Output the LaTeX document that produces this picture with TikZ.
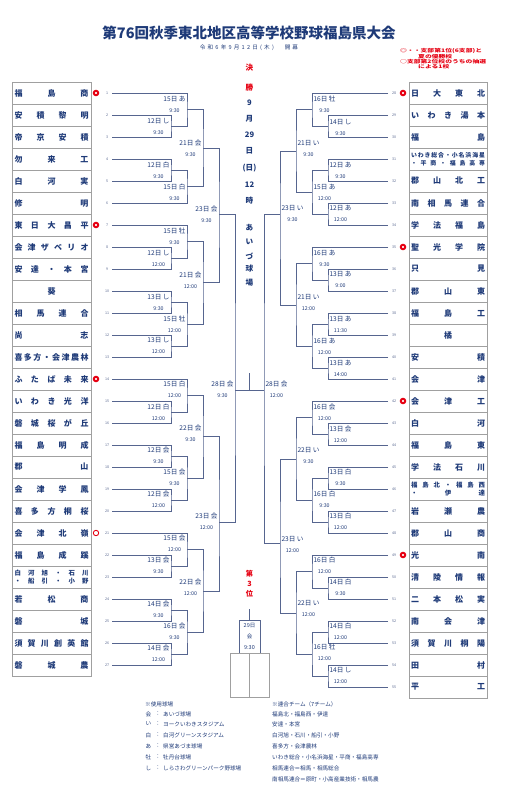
\documentclass[tikz,border=0pt]{standalone}
\usepackage{fontspec}
\usepackage{graphicx}
\setmainfont{Noto Sans CJK JP}
\usetikzlibrary{positioning,calc}
\definecolor{navy}{HTML}{1E3A78}
\definecolor{wire}{HTML}{56658F}
\definecolor{frame}{HTML}{A0A0A0}
\definecolor{alert}{HTML}{E60012}
% spread the letters of a school name over the box
\def\spreadloop#1{\ifx\relax#1\else\sepchar#1\def\sepchar{\hfill}\expandafter\spreadloop\fi}
\newcommand\tname[1]{\hbox to 74pt{\def\sepchar{}\expandafter\spreadloop#1\relax}}
\newcommand\wide[1]{\scalebox{1.42}[1]{#1}}
\tikzset{
  wireline/.style={draw=wire,line width=0.8pt},
  team/.style={draw=frame,line width=0.8pt,minimum height=22pt,inner sep=0pt,
               font=\fontsize{8}{9}\selectfont\bfseries,text=navy},
  num/.style={font=\fontsize{3.6}{4}\selectfont,text=wire,inner sep=0pt},
  mlab/.style={font=\fontsize{6.6}{7}\selectfont,text=navy,inner sep=0.3pt},
  mtime/.style={font=\fontsize{5.3}{6}\selectfont,text=navy,inner sep=0pt},
  seed/.style={circle,draw=alert,line width=2pt,fill=white,minimum size=4.4pt,inner sep=0pt},
  lot/.style={circle,draw=alert,line width=0.9pt,fill=white,minimum size=5.4pt,inner sep=0pt},
  vchar/.style={font=\fontsize{7.6}{8}\selectfont\bfseries,inner sep=0pt},
  legend/.style={font=\fontsize{5.6}{6}\selectfont,text=navy,anchor=west,inner sep=0pt},
  note/.style={font=\fontsize{4.8}{5}\selectfont\bfseries,text=alert,anchor=west,inner sep=0pt}
}
\begin{document}
\begin{tikzpicture}[x=1pt,y=-1pt]
  \useasboundingbox (0,0) rectangle (511,800);
  \fill[white] (0,0) rectangle (511,800);

  % heading
  \node[font=\fontsize{14.5}{16}\selectfont\bfseries,text=navy] (title) at (249,33) {第76回秋季東北地区高等学校野球福島県大会};
  \node[font=\fontsize{5.6}{6}\selectfont,text=navy] (opening) at (249,48)
    {\hbox{\hbox to 64pt{\tname{令和6年9月12日(木)}\hss}\hskip 21pt 開\hskip 2pt 幕}};
  \node[note] (note1) at (400,51) {\wide{◎・・支部第1位(6支部)と}};
  \node[note] (note2) at (418,56.2) {\wide{夏の優勝校}};
  \node[note] (note3) at (400,61.4) {\wide{○支部第2位校のうちの抽選}};
  \node[note] (note4) at (418,66.6) {\wide{による1校}};

  % left schools
  \foreach \i/\nm in {1/福島商,2/安積黎明,3/帝京安積,4/勿来工,5/白河実,6/修明,7/東日大昌平,
      8/会津ザベリオ,9/安達・本宮,11/相馬連合,12/尚志,13/喜多方・会津農林,14/ふたば未来,
      15/いわき光洋,16/磐城桜が丘,17/福島明成,18/郡山,19/会津学鳳,20/喜多方桐桜,21/会津北嶺,
      22/福島成蹊,24/若松商,25/磐城,26/須賀川創英館,27/磐城農}
    \node[team,minimum width=79pt] (tl\i) at (51.5,{93+22*(\i-1)}) {\tname{\nm}};
  \node[team,minimum width=79pt] (tl10) at (51.5,291) {\hbox to 74pt{\hfil 葵\hfil}};
  \node[team,minimum width=79pt,font=\fontsize{6.4}{8.5}\selectfont\bfseries] (tl23) at (51.5,577)
    {\vbox{\tname{白河旭・石川}\tname{・船引・小野}}};

  % right schools
  \foreach \i/\nm in {28/日大東北,29/いわき湯本,30/福島,32/郡山北工,33/南相馬連合,34/学法福島,
      35/聖光学院,36/只見,37/郡山東,38/福島工,40/安積,41/会津,42/会津工,43/白河,44/福島東,
      45/学法石川,47/岩瀬農,48/郡山商,49/光南,50/清陵情報,51/二本松実,52/南会津,53/須賀川桐陽,
      54/田村,55/平工}
    \node[team,minimum width=78pt] (tr\i) at (448,{93+22*(\i-28)}) {\tname{\nm}};
  \node[team,minimum width=78pt] (tr39) at (448,335) {\hbox to 74pt{\hfil 橘\hfil}};
  \node[team,minimum width=78pt,font=\fontsize{5.9}{8.5}\selectfont\bfseries] (tr31) at (448,159)
    {\vbox{\tname{いわき総合・小名浜海星}\tname{・平商・福島高専}}};
  \node[team,minimum width=78pt,font=\fontsize{6.4}{8.5}\selectfont\bfseries] (tr46) at (448,489)
    {\vbox{\tname{福島北・福島西}\tname{・伊達}}};

  % draw numbers and line ends
  \foreach \i in {1,...,27} {
    \node[num] (nl\i) at (107,{93+22*(\i-1)}) {\i};
    \coordinate (L\i) at (112,{93+22*(\i-1)});
  }
  \foreach \i in {28,...,55} {
    \node[num] (nr\i) at (394,{93+22*(\i-28)}) {\i};
    \coordinate (R\i) at (388,{93+22*(\i-28)});
  }

  % seeded schools
  \foreach \i in {1,7,14} \node[seed] (sl\i) at (96,{93+22*(\i-1)}) {};
  \node[lot] (sl21) at (96,533) {};
  \foreach \i in {28,35,42,49} \node[seed] (sr\i) at (403,{93+22*(\i-28)}) {};

  % match points
  \foreach \n/\x/\y in {a2/171/126,a4/171/170,a8/171/258,a10/171/302,a12/171/346,a15/171/412,
      a17/171/456,a19/171/500,a22/171/566,a24/171/610,a26/171/654,
      b1/187/109.5,b6/187/186.5,b7/187/241.5,b10/187/324,b14/187/395.5,b17/187/478,b21/187/549.5,b24/187/632,
      c1/203/148,c2/203/282,c3/203/436,c4/203/591,d1/219/214,d2/219/522,
      e29/328/126,e31/328/170,e33/328/214,e36/328/280,e38/328/324,e40/328/368,e43/328/434,
      e45/328/478,e47/328/522,e50/328/588,e52/328/632,e54/328/676,
      f28/312/109.5,f31/312/192,f35/312/263.5,f38/312/346,f42/312/417.5,f45/312/500,f49/312/571.5,f52/312/654,
      g1/296/151,g2/296/305,g3/296/459,g4/296/613,h1/280/214,h2/280/543,
      sL/235/390,sR/264/390}
    \coordinate (\n) at (\x,\y);

  % bracket
  \foreach \m/\p/\q in {a2/L2/L3,a4/L4/L5,a8/L8/L9,a10/L10/L11,a12/L12/L13,a15/L15/L16,a17/L17/L18,
      a19/L19/L20,a22/L22/L23,a24/L24/L25,a26/L26/L27,
      b1/L1/a2,b6/a4/L6,b7/L7/a8,b10/a10/a12,b14/L14/a15,b17/a17/a19,b21/L21/a22,b24/a24/a26,
      c1/b1/b6,c2/b7/b10,c3/b14/b17,c4/b21/b24,d1/c1/c2,d2/c3/c4,sL/d1/d2,
      e29/R29/R30,e31/R31/R32,e33/R33/R34,e36/R36/R37,e38/R38/R39,e40/R40/R41,e43/R43/R44,
      e45/R45/R46,e47/R47/R48,e50/R50/R51,e52/R52/R53,e54/R54/R55,
      f28/R28/e29,f31/e31/e33,f35/R35/e36,f38/e38/e40,f42/R42/e43,f45/e45/e47,f49/R49/e50,f52/e52/e54,
      g1/f28/f31,g2/f35/f38,g3/f42/f45,g4/f49/f52,h1/g1/g2,h2/g3/g4,sR/h1/h2}
    \draw[wireline] (\p) -| (\m) |- (\q);
  \draw[wireline] (sL) -- (sR);
  \coordinate (champ) at (249.5,373);
  \draw[wireline] (champ) -- (champ |- sL);

  % dates and grounds, left side
  \foreach \m/\y/\dt/\tm in {a2/121/12日 し/9:30,a4/165/12日 白/9:30,a8/253/12日 し/12:00,
      a10/297/13日 し/9:30,a12/340/13日 し/12:00,a15/407/12日 白/12:00,a17/450/12日 会/9:30,
      a19/494/12日 会/12:00,a22/560/13日 会/9:30,a24/604/14日 会/9:30,a26/648/14日 会/12:00,
      b1/99/15日 あ/9:30,b6/187/15日 白/9:30,b7/231/15日 牡/9:30,b10/319/15日 牡/12:00,
      b14/384/15日 白/12:00,b17/472/15日 会/9:30,b21/538/15日 会/12:00,b24/626/16日 会/9:30,
      c1/143/21日 会/9:30,c2/275/21日 会/12:00,c3/428/22日 会/9:30,c4/582/22日 会/12:00,
      d1/209/23日 会/9:30,d2/516/23日 会/12:00,sL/384/28日 会/9:30} {
    \node[mlab,anchor=east,xshift=-1pt] (n\m) at (\m |- 0,\y) {\dt};
    \node[mtime] (t\m) at ([yshift=-11.5pt]n\m.center) {\tm};
  }
  % dates and grounds, right side
  \foreach \m/\y/\dt/\tm in {e29/122/14日 し/9:30,e31/165/12日 あ/9:30,e33/208/12日 あ/12:00,
      e36/274/13日 あ/9:00,e38/319/13日 あ/11:30,e40/363/13日 あ/14:00,e43/429/13日 会/12:00,
      e45/472/13日 白/9:30,e47/516/13日 白/12:00,e50/582/14日 白/9:30,e52/626/14日 白/12:00,
      e54/670/14日 し/12:00,
      f28/99/16日 牡/9:30,f31/187/15日 あ/12:00,f35/253/16日 あ/9:30,f38/341/16日 あ/12:00,
      f42/407/16日 会/12:00,f45/494/16日 白/9:30,f49/560/16日 白/12:00,f52/647/16日 牡/12:00,
      g1/143/21日 い/9:30,g2/297/21日 い/12:00,g3/450/22日 い/9:30,g4/603/22日 い/12:00,
      h1/208/23日 い/9:30,h2/539/23日 い/12:00,sR/384/28日 会/12:00} {
    \node[mlab,anchor=west,xshift=1pt] (n\m) at (\m |- 0,\y) {\dt};
    \node[mtime] (t\m) at ([yshift=-11.5pt]n\m.center) {\tm};
  }

  % final
  \foreach \ch/\y/\col [count=\k] in {決/68/alert,勝/88/alert,9/103/navy,月/119/navy,29/135/navy,
      日/151/navy,(日)/168/navy,12/185/navy,時/201/navy,あ/228/navy,い/242/navy,づ/256/navy,
      球/269/navy,場/283/navy}
    \node[vchar,text=\col] (fin\k) at (249.5,\y) {\ch};

  % third place
  \foreach \ch/\y [count=\k] in {第/574,3/584,位/594}
    \node[vchar,text=alert,font=\fontsize{7.2}{8}\selectfont\bfseries] (thp\k) at (249.5,\y) {\ch};
  \node[draw=wire,line width=0.8pt,minimum width=21pt,minimum height=33pt,inner sep=0pt,align=center,
        font=\fontsize{5.5}{11}\selectfont,text=navy] (third) at (249.5,636.5) {29日\\会\\9:30};
  \coordinate (thirdtop) at (249.5,609);
  \draw[wireline] (thirdtop) -- (third.north);
  \node[draw=frame,line width=0.8pt,minimum width=19.5pt,minimum height=44pt,inner sep=0pt] (lose1) at (239.75,675) {};
  \node[draw=frame,line width=0.8pt,minimum width=19.5pt,minimum height=44pt,inner sep=0pt] (lose2) at (259.25,675) {};

  % legend
  \node[legend] (ground) at (145,704) {※使用球場};
  \foreach \v/\txt/\y [count=\k] in {会/あいづ球場/714,い/ヨークいわきスタジアム/724,
      白/白河グリーンスタジアム/735,あ/県営あづま球場/746,牡/牡丹台球場/757,
      し/しらさわグリーンパーク野球場/768} {
    \node[legend] (gv\k) at (145.5,\y) {\v};
    \node[legend] (gc\k) at (155,\y) {：};
    \node[legend] (gt\k) at (163,\y) {\txt};
  }
  \node[legend] (joint) at (272,704) {※連合チーム（7チーム）};
  \foreach \txt/\y [count=\k] in {福島北・福島西・伊達/714,安達・本宮/724,白河旭・石川・船引・小野/735,
      喜多方・会津農林/746,いわき総合・小名浜海星・平商・福島高専/757,相馬連合＝相馬・相馬総合/768,
      南相馬連合＝原町・小高産業技術・相馬農/779}
    \node[legend] (jt\k) at (272,\y) {\txt};
\end{tikzpicture}
\end{document}
